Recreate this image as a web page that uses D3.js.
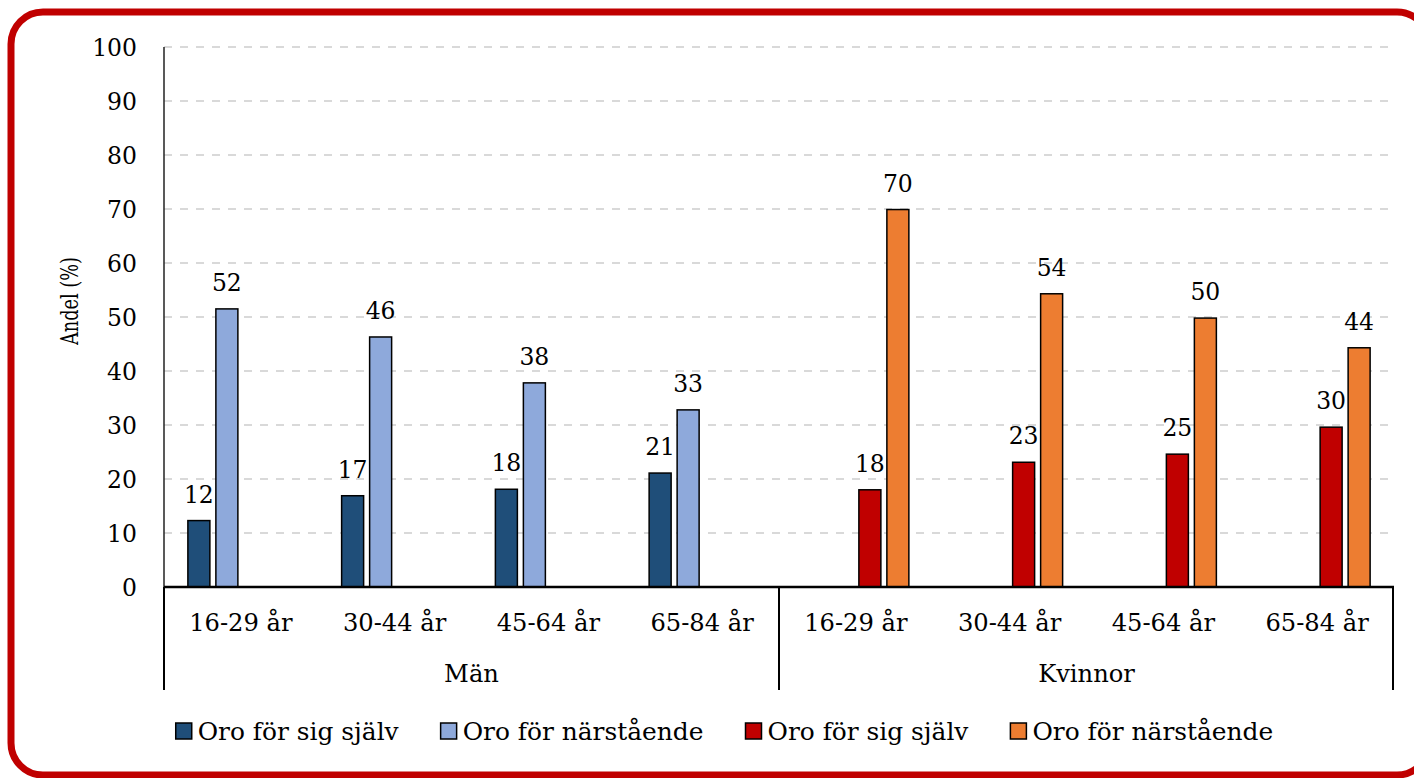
<!DOCTYPE html>
<html>
<head>
<meta charset="utf-8">
<script src="https://cdn.jsdelivr.net/npm/d3@7"></script>
<style>
  body { margin: 0; background: #fff; }
  svg { display: block; }
</style>
</head>
<body>
<svg id="chart" width="1414" height="778"></svg>
<script>
// Age groups within each sex, and the two sexes
const ageGroups = ['16-29 år', '30-44 år', '45-64 år', '65-84 år']
const sexes = ['Män', 'Kvinnor']

// Series: each sex has its own pair of colours
const seriesNames = ['Oro för sig själv', 'Oro för närstående', 'Oro för sig själv', 'Oro för närstående']
const seriesColors = ['#1F4E79', '#8EA9DB', '#C00000', '#ED7D31']

// Values (%), per age group
const manSelf = [12.3, 16.9, 18.1, 21.1]
const manOthers = [51.5, 46.3, 37.8, 32.8]
const womanSelf = [18.0, 23.1, 24.6, 29.6]
const womanOthers = [69.9, 54.3, 49.8, 44.3]

const yTicks = [0, 10, 20, 30, 40, 50, 60, 70, 80, 90, 100]

const font = "'DejaVu Serif'"

// grow or shrink a text's font size until it is `target` px long
const fitText = (sel, target) => {
  sel.each(function () {
    const t = d3.select(this)
    const len = this.getComputedTextLength()
    const fs = parseFloat(t.attr('font-size'))
    if (len > 0) t.attr('font-size', fs * target / len)
  })
}

const svg = d3.select('#chart')

// Rounded red frame (its right edge runs past the picture)
svg.append('rect')
  .attr('x', 11).attr('y', 12)
  .attr('width', 1418).attr('height', 763)
  .attr('rx', 32).attr('ry', 32)
  .attr('fill', '#fff')
  .attr('stroke', '#C00000')
  .attr('stroke-width', 7)

const plot = { left: 164, right: 1394, top: 47, bottom: 587 }

// One entry per bar slot: 8 categories x 4 series, empty slots skipped
const categories = []
sexes.forEach(s => ageGroups.forEach(a => categories.push(s + '|' + a)))

const bars = []
ageGroups.forEach((a, i) => {
  bars.push({ cat: 'Män|' + a, series: 0, value: manSelf[i] })
  bars.push({ cat: 'Män|' + a, series: 1, value: manOthers[i] })
  bars.push({ cat: 'Kvinnor|' + a, series: 2, value: womanSelf[i] })
  bars.push({ cat: 'Kvinnor|' + a, series: 3, value: womanOthers[i] })
})

const x0 = d3.scaleBand()
  .domain(categories)
  .range([plot.left, plot.right])

const x1 = d3.scaleBand()
  .domain([0, 1, 2, 3])
  .range([0, x0.bandwidth()])
  .paddingInner(6 / 28)
  .paddingOuter(0.853)

const y = d3.scaleLinear()
  .domain([0, 100])
  .range([plot.bottom, plot.top])

// Dashed grid
svg.append('g')
  .selectAll('line')
  .data(yTicks.filter(t => t > 0))
  .join('line')
  .attr('x1', plot.left).attr('x2', plot.right - 1)
  .attr('y1', d => y(d)).attr('y2', d => y(d))
  .attr('stroke', '#D9D9D9')
  .attr('stroke-width', 2)
  .attr('stroke-dasharray', '8,8')

// Y tick labels
svg.append('g')
  .selectAll('text')
  .data(yTicks)
  .join('text')
  .attr('x', 137)
  .attr('y', d => y(d) + 8.5)
  .attr('text-anchor', 'end')
  .attr('font-family', font)
  .attr('font-size', 23.5)
  .attr('fill', '#000')
  .text(d => d)

// Y axis title, squeezed to the narrow serif of the original
svg.append('text')
  .attr('transform', 'translate(78,301) rotate(-90)')
  .attr('text-anchor', 'middle')
  .attr('font-family', font)
  .attr('font-size', 24)
  .attr('textLength', 88)
  .attr('lengthAdjust', 'spacingAndGlyphs')
  .text('Andel (%)')

// Bars
svg.append('g')
  .selectAll('rect')
  .data(bars)
  .join('rect')
  .attr('x', d => x0(d.cat) + x1(d.series))
  .attr('y', d => y(d.value))
  .attr('width', x1.bandwidth())
  .attr('height', d => y(0) - y(d.value))
  .attr('fill', d => seriesColors[d.series])
  .attr('stroke', '#000')
  .attr('stroke-width', 1.5)

// Value labels
svg.append('g')
  .selectAll('text')
  .data(bars)
  .join('text')
  .attr('x', d => x0(d.cat) + x1(d.series) + x1.bandwidth() / 2)
  .attr('y', d => y(d.value) - 18)
  .attr('text-anchor', 'middle')
  .attr('font-family', font)
  .attr('font-size', 23.5)
  .text(d => Math.round(d.value))

// Axis lines
svg.append('line')
  .attr('x1', plot.left).attr('x2', plot.left)
  .attr('y1', plot.top).attr('y2', plot.bottom)
  .attr('stroke', '#222').attr('stroke-width', 1.5)

svg.append('line')
  .attr('x1', plot.left).attr('x2', plot.right)
  .attr('y1', plot.bottom).attr('y2', plot.bottom)
  .attr('stroke', '#000').attr('stroke-width', 2.5)

// Sex dividers below the axis
const sexScale = d3.scaleBand().domain(sexes).range([plot.left, plot.right])
const dividers = [sexScale(sexes[0]), sexScale(sexes[1]), plot.right - 1]
svg.append('g')
  .selectAll('line')
  .data(dividers)
  .join('line')
  .attr('x1', d => d).attr('x2', d => d)
  .attr('y1', plot.bottom).attr('y2', 690)
  .attr('stroke', '#000').attr('stroke-width', 2)

// Category labels
svg.append('g')
  .selectAll('text')
  .data(categories)
  .join('text')
  .attr('x', d => x0(d) + x0.bandwidth() / 2)
  .attr('y', 631)
  .attr('text-anchor', 'middle')
  .attr('font-family', font)
  .attr('font-size', 24.2)
  .text(d => d.split('|')[1])

svg.append('g')
  .selectAll('text')
  .data(sexes)
  .join('text')
  .attr('x', d => sexScale(d) + sexScale.bandwidth() / 2)
  .attr('y', 682)
  .attr('text-anchor', 'middle')
  .attr('font-family', font)
  .attr('font-size', 24.2)
  .text(d => d)

// Legend, centred under the plot
const legend = svg.append('g')
const items = legend.selectAll('g')
  .data(seriesNames)
  .join('g')
items.append('rect')
  .attr('x', 0).attr('y', -17)
  .attr('width', 16).attr('height', 16)
  .attr('fill', (d, i) => seriesColors[i])
  .attr('stroke', '#000').attr('stroke-width', 1.5)
items.append('text')
  .attr('x', 22).attr('y', 0)
  .attr('font-family', font)
  .attr('font-size', 25)
  .text(d => d)
  .each(function (d) {
    d3.select(this).call(fitText, d.includes('när') ? 241 : 201)
  })

let offset = 0
const widths = []
items.each(function () {
  widths.push(22 + d3.select(this).select('text').node().getComputedTextLength())
})
const gap = 42
const total = d3.sum(widths) + gap * (widths.length - 1)
const start = 724.5 - total / 2
items.attr('transform', (d, i) => {
  const tx = start + offset
  offset += widths[i] + gap
  return `translate(${tx},740)`
})
</script>
</body>
</html>
